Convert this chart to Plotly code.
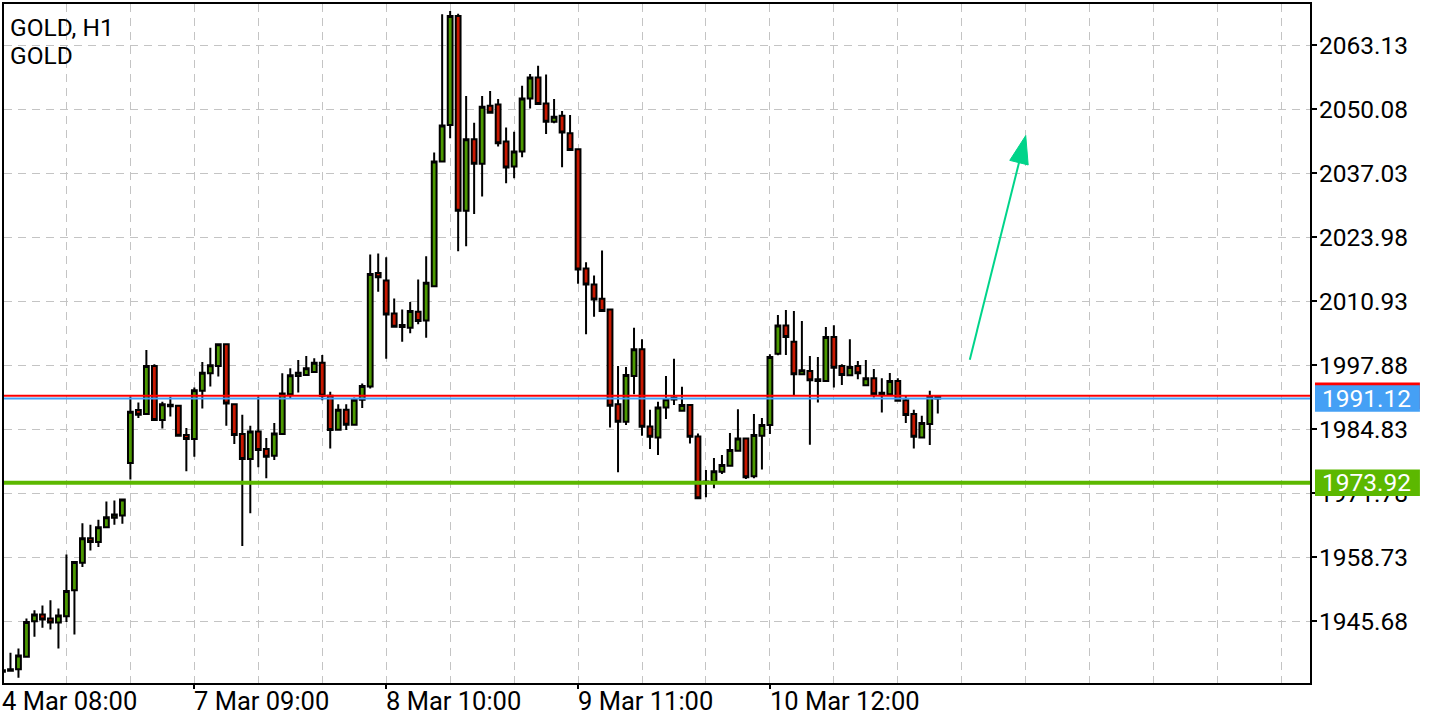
import plotly.graph_objects as go

# ---------------- data ----------------
bar_index = list(range(118))
opens = [1935.40, 1935.60, 1935.88, 1938.44, 1945.70, 1947.06, 1946.25, 1945.43, 1946.72, 1952.00,
         1957.63, 1962.63, 1961.82, 1964.87, 1966.78, 1967.25, 1977.96, 1988.73, 1987.92, 1997.74,
         1986.70, 1989.80, 1989.60, 1983.65, 1982.84, 1992.66, 1996.25, 1997.74, 2002.15, 1989.95,
         1983.85, 1978.77, 1984.38, 1980.80, 1979.44, 1983.85, 1991.98, 1995.70, 1995.91, 1996.52,
         1998.41, 1991.64, 1984.73, 1988.79, 1985.74, 1990.83, 1993.53, 2016.70, 2015.16, 2008.45,
         2006.07, 2005.52, 2008.77, 2007.02, 2013.99, 2039.41, 2046.87, 2069.08, 2029.39, 2043.94,
         2038.94, 2050.79, 2051.05, 2043.47, 2038.39, 2041.44, 2052.27, 2056.54, 2051.26, 2047.54,
         2048.76, 2045.16, 2041.91, 2017.59, 2014.34, 2011.42, 2009.26, 1989.95, 1986.35, 1995.70,
         2001.13, 1985.40, 1983.16, 1989.26, 1990.90, 1988.59, 1989.75, 1983.36, 1974.20, 1974.16,
         1976.19, 1977.41, 1980.46, 1982.96, 1975.24, 1983.50, 1985.68, 2000.22, 2005.99, 2002.68,
         1996.05, 1996.72, 1995.03, 1994.69, 2003.63, 1997.74, 1995.84, 1997.74, 1993.81, 1995.24,
         1992.25, 1991.98, 1994.69, 1990.76, 1987.92, 1983.16, 1985.89, 1991.43]
highs = [1936.00, 1939.26, 1940.15, 1946.25, 1947.93, 1948.89, 1949.97, 1948.28, 1959.32, 1957.90,
         1965.68, 1965.35, 1966.37, 1970.09, 1970.30, 1970.64, 1991.50, 1990.28, 2000.99, 1998.08,
         1990.42, 1991.43, 1989.81, 1985.07, 1993.33, 1998.55, 2001.46, 2002.35, 2002.15, 1989.95,
         1987.78, 1985.54, 1991.50, 1983.04, 1986.09, 1996.25, 1997.27, 1998.96, 1999.77, 1999.30,
         1999.97, 1992.45, 1989.95, 1989.95, 1991.29, 1994.14, 2020.44, 2020.64, 2019.89, 2011.50,
         2009.26, 2010.75, 2015.36, 2020.10, 2041.24, 2069.43, 2070.10, 2069.55, 2052.76, 2047.33,
         2052.76, 2053.78, 2052.15, 2046.32, 2045.50, 2054.86, 2057.23, 2058.92, 2057.15, 2052.15,
         2049.71, 2048.90, 2041.91, 2018.88, 2016.17, 2021.26, 2009.26, 1997.74, 1997.53, 2005.52,
         2003.16, 1988.79, 1990.42, 1995.70, 1999.22, 1993.47, 1989.95, 1983.97, 1976.53, 1978.97,
         1979.58, 1984.06, 1988.93, 1983.16, 1987.92, 1987.11, 2000.11, 2008.10, 2009.12, 2008.92,
         2006.88, 1999.77, 1999.56, 2005.66, 2006.01, 1998.08, 2003.16, 1998.75, 1998.96, 1997.13,
         1995.24, 1996.31, 1995.24, 1991.64, 1988.79, 1987.57, 1992.66, 1991.64]
lows = [1935.00, 1935.39, 1934.17, 1938.24, 1942.51, 1944.34, 1944.01, 1940.15, 1945.56, 1943.00,
        1956.74, 1960.13, 1960.80, 1964.66, 1965.35, 1965.56, 1974.57, 1987.11, 1987.92, 1986.70,
        1984.99, 1987.43, 1983.50, 1976.25, 1979.24, 1989.06, 1993.53, 1995.56, 1985.54, 1981.82,
        1961.01, 1967.71, 1977.06, 1974.83, 1978.57, 1983.65, 1991.17, 1992.31, 1995.91, 1996.52,
        1990.76, 1980.93, 1984.73, 1984.66, 1985.74, 1989.14, 1993.12, 2012.84, 1999.22, 2005.72,
        2002.68, 2004.38, 2006.21, 2003.49, 2013.85, 2039.41, 2044.14, 2021.11, 2022.13, 2028.69,
        2032.29, 2049.37, 2042.46, 2035.00, 2036.01, 2040.28, 2050.24, 2051.13, 2045.03, 2047.19,
        2038.25, 2041.78, 2014.47, 2004.18, 2007.76, 2008.92, 1985.19, 1976.05, 1985.68, 1991.98,
        1983.50, 1980.80, 1979.58, 1986.90, 1989.75, 1988.59, 1981.94, 1970.64, 1970.97, 1972.80,
        1975.72, 1977.41, 1980.46, 1974.71, 1974.83, 1976.60, 1983.85, 1999.89, 1999.96, 1991.78,
        1996.05, 1981.68, 1990.28, 1994.69, 1993.32, 1993.87, 1995.84, 1995.03, 1993.81, 1991.29,
        1988.25, 1991.98, 1990.62, 1986.09, 1980.93, 1983.04, 1981.62, 1988.04]
closes = [1935.70, 1935.90, 1938.73, 1945.56, 1947.06, 1946.04, 1945.43, 1946.86, 1951.86, 1957.75,
          1962.63, 1961.82, 1964.87, 1966.90, 1967.45, 1970.50, 1988.38, 1987.78, 1997.74, 1986.70,
          1989.95, 1989.50, 1983.50, 1982.84, 1992.80, 1996.37, 1997.88, 2002.15, 1990.07, 1983.65,
          1978.77, 1984.38, 1980.60, 1979.24, 1983.97, 1992.11, 1995.84, 1996.37, 1997.27, 1998.41,
          1991.64, 1984.66, 1988.79, 1985.74, 1990.83, 1993.67, 2016.50, 2015.83, 2008.24, 2005.72,
          2005.66, 2008.92, 2006.88, 2014.67, 2039.41, 2046.75, 2069.08, 2029.39, 2043.94, 2038.94,
          2050.59, 2049.37, 2043.13, 2038.19, 2041.44, 2052.27, 2056.54, 2051.13, 2047.54, 2048.55,
          2045.30, 2041.78, 2017.39, 2014.34, 2011.29, 2008.92, 1989.61, 1986.35, 1995.91, 2001.13,
          1985.34, 1983.30, 1989.26, 1990.97, 1991.30, 1989.75, 1983.30, 1970.76, 1973.90, 1976.25,
          1977.55, 1980.60, 1982.96, 1975.03, 1983.65, 1985.68, 1999.56, 2005.99, 2003.62, 1996.05,
          1996.86, 1994.82, 1994.69, 2003.63, 1997.39, 1995.91, 1997.53, 1996.25, 1995.24, 1991.98,
          1991.98, 1994.69, 1990.62, 1987.71, 1983.30, 1986.09, 1991.43, 1991.12]

price_ticks = [2063.13, 2050.08, 2037.03, 2023.98, 2010.93, 1997.88, 1984.83, 1971.78, 1958.73, 1945.68]
price_tick_text = ["2063.13", "2050.08", "2037.03", "2023.98", "2010.93",
                   "1997.88", "1984.83", "1971.78", "1958.73", "1945.68"]
time_tick_index = [0, 24, 48, 72, 96]
time_tick_text = ["4 Mar 08:00", "7 Mar 09:00", "8 Mar 10:00", "9 Mar 11:00", "10 Mar 12:00"]
title_lines = ["GOLD, H1", "GOLD"]

bid_price = 1991.12
ask_price = 1991.64
level_price = 1973.92
arrow_start = (121, 1999.0)
arrow_end = (128, 2044.7)

# ---------------- layout constants ----------------
W, H = 1440, 720
ML, MR, MT, MB = 3, 130, 2, 37
PW, PH = W - ML - MR, H - MT - MB
XR = [0.19, 163.56]
YR = [1933.10, 2071.52]
FONT = "Roboto"
GRID = "#c4c4c4"
GREEN_BODY = "#4c9900"
RED_BODY = "#c81800"
BLUE = "#45a0f5"
LEVEL_GREEN = "#5cb800"
ARROW = "#00d48a"


def x_to_px(v):
    return ML + (v - XR[0]) / (XR[1] - XR[0]) * PW


def y_to_px(p):
    return MT + (YR[1] - p) / (YR[1] - YR[0]) * PH


def px_to_x(px):
    return XR[0] + (px - ML) / PW * (XR[1] - XR[0])


def px_to_y(py):
    return YR[1] - (py - MT) / PH * (YR[1] - YR[0])


def paper_x(px):
    return (px - ML) / PW


def paper_y(py):
    return 1 - (py - MT) / PH


fig = go.Figure()
fig.add_trace(go.Candlestick(
    x=bar_index, open=opens, high=highs, low=lows, close=closes,
    increasing=dict(line=dict(color="black", width=2), fillcolor=GREEN_BODY),
    decreasing=dict(line=dict(color="black", width=2), fillcolor=RED_BODY),
    whiskerwidth=0, hoverinfo="skip", showlegend=False,
))

shapes = []
# price lines
shapes.append(dict(type="line", xref="paper", yref="y", x0=0, x1=1, y0=ask_price, y1=ask_price,
                   line=dict(color="#ff0000", width=2), layer="above"))
shapes.append(dict(type="line", xref="paper", yref="y", x0=0, x1=1, y0=bid_price, y1=bid_price,
                   line=dict(color=BLUE, width=2), layer="above"))
shapes.append(dict(type="line", xref="paper", yref="y", x0=0, x1=1, y0=level_price, y1=level_price,
                   line=dict(color=LEVEL_GREEN, width=4), layer="above"))

# price label boxes on the axis
box_x0, box_x1 = paper_x(1315), paper_x(1420)
half_h = 13.3


def label_box(price, color):
    c = y_to_px(price)
    return dict(type="rect", xref="paper", yref="y", x0=box_x0, x1=box_x1,
                y0=px_to_y(c + half_h), y1=px_to_y(c - half_h),
                fillcolor=color, line=dict(width=0), layer="above")


shapes.append(label_box(ask_price, "#ff0000"))
shapes.append(label_box(bid_price, BLUE))
shapes.append(label_box(level_price, LEVEL_GREEN))

# arrow
sx, sy = x_to_px(arrow_start[0]), y_to_px(arrow_start[1])
ex, ey = x_to_px(arrow_end[0]), y_to_px(arrow_end[1])
dx, dy = ex - sx, ey - sy
ln = (dx * dx + dy * dy) ** 0.5
ux, uy = dx / ln, dy / ln
head_len, head_half = 28, 9.5
bx, by = ex - ux * head_len, ey - uy * head_len
px_, py_ = -uy, ux
c1 = (bx + px_ * head_half, by + py_ * head_half)
c2 = (bx - px_ * head_half, by - py_ * head_half)
shapes.append(dict(type="line", xref="x", yref="y",
                   x0=arrow_start[0], y0=arrow_start[1],
                   x1=px_to_x(bx + ux * 2), y1=px_to_y(by + uy * 2),
                   line=dict(color=ARROW, width=2), layer="above"))
path = "M {},{} L {},{} L {},{} Z".format(
    px_to_x(ex), px_to_y(ey), px_to_x(c1[0]), px_to_y(c1[1]), px_to_x(c2[0]), px_to_y(c2[1]))
shapes.append(dict(type="path", xref="x", yref="y", path=path,
                   fillcolor=ARROW, line=dict(color=ARROW, width=1), layer="above"))

annotations = []
# title
for k, t in enumerate(title_lines):
    annotations.append(dict(text=t, xref="paper", yref="paper", x=paper_x(7), y=paper_y(26 + 28 * k),
                             xanchor="left", yanchor="middle", showarrow=False,
                             font=dict(family=FONT, size=24.5, color="black")))
# time labels
for idx, t in zip(time_tick_index, time_tick_text):
    annotations.append(dict(text=t, xref="paper", yref="paper", x=paper_x(x_to_px(idx) - 2), y=paper_y(684),
                            xanchor="left", yanchor="top", showarrow=False,
                            font=dict(family=FONT, size=25.5, color="black")))
# label box texts
for price, txt in [(bid_price, f"{bid_price:.2f}"), (level_price, f"{level_price:.2f}")]:
    annotations.append(dict(text=txt, xref="paper", yref="y", x=paper_x(1367), y=price,
                            xanchor="center", yanchor="middle", showarrow=False,
                            font=dict(family=FONT, size=24.5, color="white")))

fig.update_layout(
    width=W, height=H,
    margin=dict(l=ML, r=MR, t=MT, b=MB, pad=0),
    paper_bgcolor="white", plot_bgcolor="white",
    boxgap=0.4, boxgroupgap=0,
    showlegend=False,
    shapes=shapes, annotations=annotations,
    font=dict(family=FONT, size=24, color="black"),
    xaxis=dict(
        range=XR, showline=True, linecolor="black", linewidth=2, mirror=True,
        tickmode="array", tickvals=time_tick_index, ticktext=time_tick_text,
        showticklabels=False, ticks="outside", ticklen=4, tickwidth=2, tickcolor="black",
        showgrid=True, gridcolor=GRID, gridwidth=1, griddash="8px,6px",
        minor=dict(tick0=0, dtick=8, showgrid=True, gridcolor=GRID, gridwidth=1, griddash="8px,6px", ticks=""),
        zeroline=False, rangeslider=dict(visible=False), fixedrange=True,
    ),
    yaxis=dict(
        range=YR, side="right", showline=True, linecolor="black", linewidth=2, mirror=True,
        tickmode="array", tickvals=price_ticks, ticktext=price_tick_text,
        ticks="outside", ticklen=5, tickwidth=2, tickcolor="black",
        ticklabelstandoff=-3,
        tickfont=dict(family=FONT, size=24.5, color="black"),
        showgrid=True, gridcolor=GRID, gridwidth=1, griddash="8px,6px",
        zeroline=False, fixedrange=True,
    ),
)

fig.write_html("out.html", config={"displayModeBar": False},
               post_script="document.body.style.margin='0';")
